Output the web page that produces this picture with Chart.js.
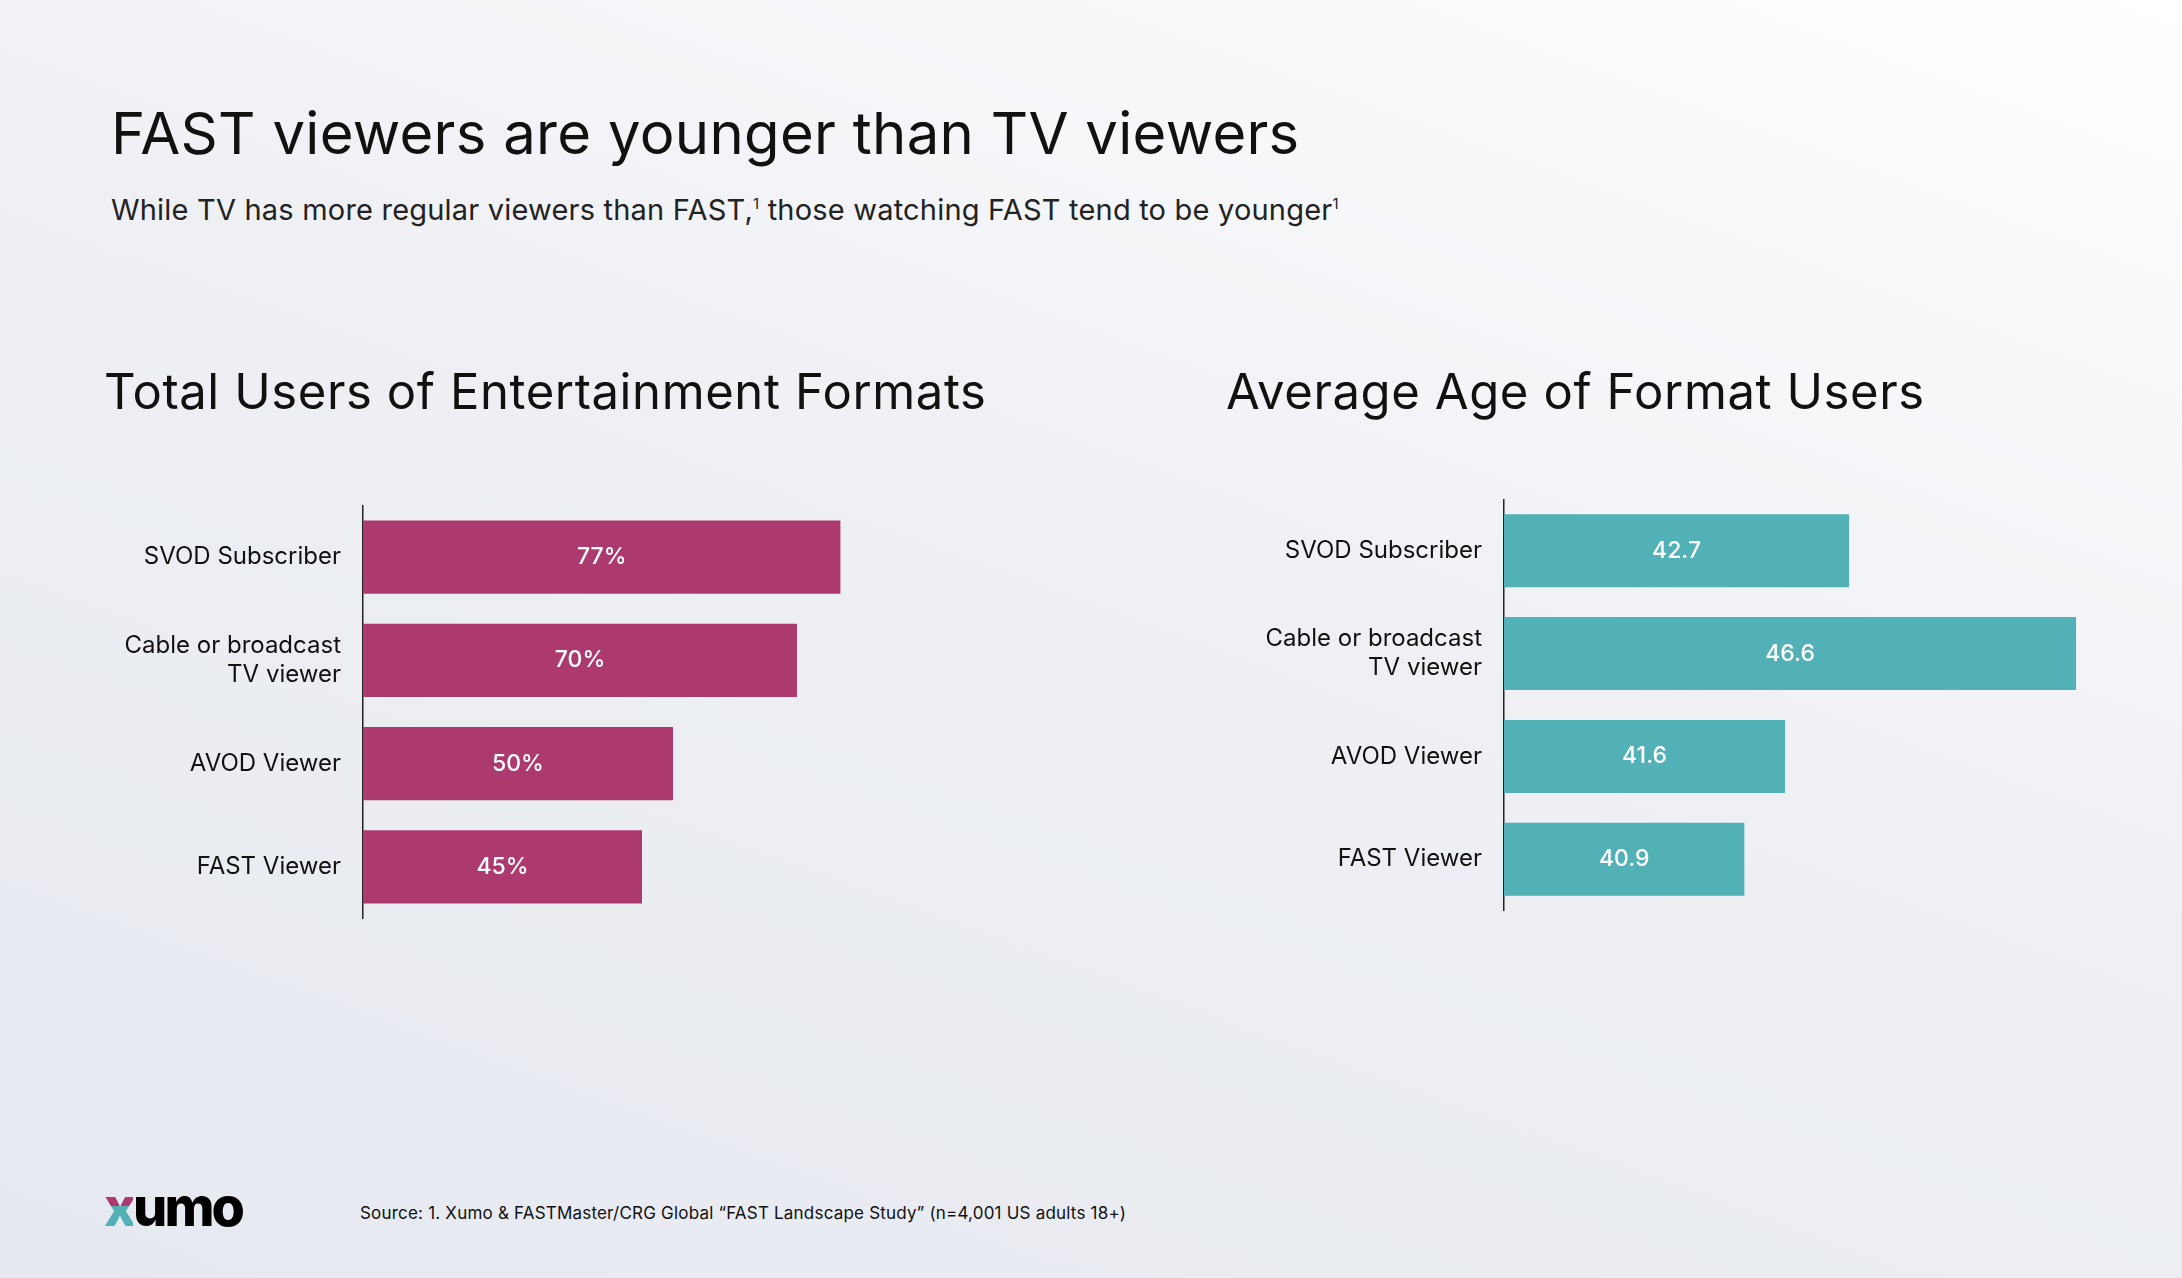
<!DOCTYPE html>
<html>
<head>
<meta charset="utf-8">
<script src="https://cdn.jsdelivr.net/npm/chart.js@4"></script>
<style>
  body { margin: 0; width: 2182px; height: 1278px; overflow: hidden; font-family: "Inter", sans-serif;
         background: linear-gradient(200deg, #ffffff 0%, #eef0f4 45%, #e6e9f0 100%); position: relative; }
  .abs { position: absolute; white-space: nowrap; color: #111; }
  #title { left: 111px; top: 98px; font-size: 58px; font-weight: 400; letter-spacing: 0.3px; }
  #sub { left: 111px; top: 192px; font-size: 29px; color: #222; letter-spacing: 0.2px; }
  #sub sup { font-size: 15px; }
  .sec { font-size: 49px; top: 362px; letter-spacing: 0.6px; }
  #logo { left: 104px; top: 1174px; font-size: 54px; font-weight: 800; letter-spacing: -3px; color: #000; }
  #logo .x { background: linear-gradient(180deg, #ad3a6f 50%, #52b1b6 50%); -webkit-background-clip: text; color: transparent; }
  #src { left: 360px; top: 1203px; font-size: 17px; color: #111; letter-spacing: 0.2px; }
  canvas { position: absolute; }
</style>
</head>
<body>
<div class="abs" id="title">FAST viewers are younger than TV viewers</div>
<div class="abs" id="sub">While TV has more regular viewers than FAST,<sup>1</sup> those watching FAST tend to be younger<sup>1</sup></div>
<div class="abs sec" style="left:104px">Total Users of Entertainment Formats</div>
<div class="abs sec" style="left:1226px">Average Age of Format Users</div>
<div class="abs" id="logo"><span class="x">x</span>umo</div>
<div class="abs" id="src">Source: 1. Xumo &amp; FASTMaster/CRG Global “FAST Landscape Study” (n=4,001 US adults 18+)</div>

<canvas id="usersChart" width="883" height="486" style="left:100px;top:469px;width:883px;height:486px"></canvas>
<canvas id="ageChart" width="863" height="484" style="left:1241px;top:463px;width:863px;height:484px"></canvas>

<script>
// ------------------ DATA ------------------
const categories = ["SVOD Subscriber", ["Cable or broadcast", "TV viewer"], "AVOD Viewer", "FAST Viewer"];
const userShare = [77, 70, 50, 45];
const averageAge = [42.7, 46.6, 41.6, 40.9];

// ------------------ CHARTS ------------------
function makeChart(id, values, color, min, max, format) {
  const valueLabels = {
    id: "valueLabels",
    afterDatasetsDraw(chart) {
      const ctx = chart.ctx;
      const left = chart.chartArea.left;
      ctx.save();
      ctx.fillStyle = "#fff";
      ctx.font = "500 23px Inter";
      ctx.textAlign = "center";
      ctx.textBaseline = "middle";
      chart.getDatasetMeta(0).data.forEach((bar, i) => {
        const start = Math.max(bar.base, left);
        ctx.fillText(format(values[i]), (start + bar.x) / 2, bar.y);
      });
      ctx.restore();
    }
  };

  new Chart(document.getElementById(id), {
    type: "bar",
    data: {
      labels: categories,
      datasets: [{ data: values, backgroundColor: color, barPercentage: 0.71, categoryPercentage: 1 }],
    },
    options: {
      indexAxis: "y",
      responsive: false,
      animation: false,
      devicePixelRatio: 1,
      layout: { padding: 0 },
      plugins: { legend: { display: false }, tooltip: { enabled: false } },
      scales: {
        x: { display: false, min, max },
        y: {
          afterFit: s => { s.width = 263; },
          grid: { display: false, drawTicks: false },
          border: { display: true, color: "#222", width: 1.5 },
          ticks: { color: "#111", padding: 22, font: { family: "Inter", size: 24 } },
        },
      },
    },
    plugins: [valueLabels],
  });
}

makeChart("usersChart", userShare, "#ad3a6f", 0, 100, v => v + "%");
makeChart("ageChart", averageAge, "#52b1b6", 36.77, 47.08, v => v.toFixed(1));
</script>
</body>
</html>
